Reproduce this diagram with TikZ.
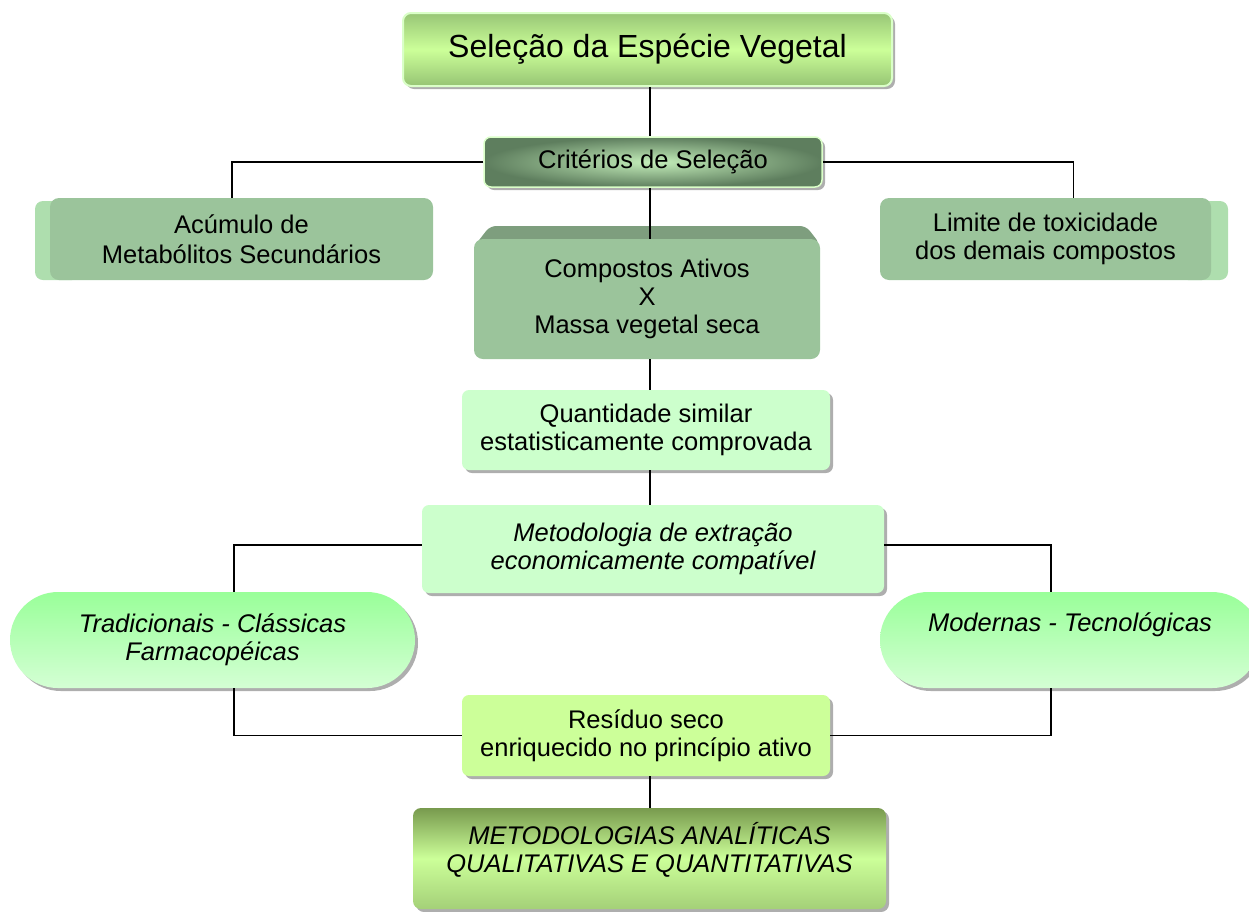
\documentclass[tikz,border=0pt]{standalone}
\usepackage{fontspec}
\setmainfont{Liberation Sans}
\usetikzlibrary{shapes.misc,shadows}

\definecolor{titTop}{HTML}{98C676}
\definecolor{titMid}{HTML}{CCFF99}
\definecolor{titBot}{HTML}{96C474}
\definecolor{glow}{HTML}{DAFFC8}
\definecolor{critIn}{HTML}{C4EEBA}
\definecolor{critOut}{HTML}{5E7E5E}
\definecolor{sage}{HTML}{9BC49B}
\definecolor{sageSide}{HTML}{AEDEAE}
\definecolor{sageTop}{HTML}{7E9E7E}
\definecolor{mint}{HTML}{CCFFCC}
\definecolor{pillTop}{HTML}{99FF99}
\definecolor{pillBot}{HTML}{D4FFD4}
\definecolor{lime}{HTML}{CCFF99}
\definecolor{olive}{HTML}{789A4E}
\definecolor{oliveLow}{HTML}{A4D078}

\begin{document}
\begin{tikzpicture}[x=1pt,y=-1pt,
  every node/.style={align=center, inner sep=0pt, text=black},
  txt/.style={font=\fontsize{25.5}{28}\selectfont},
  itxt/.style={font=\fontsize{25.5}{28}\selectfont\itshape},
  sz/.style 2 args={minimum width=#1, minimum height=#2},
  dropsh/.style={drop shadow={shadow xshift=3pt, shadow yshift=-3pt, opacity=.45, fill=black!70}},
  conn/.style={line width=1.6pt, black},
  titlebox/.style={rounded corners=8pt, top color=titTop, bottom color=titBot, middle color=titMid, draw=glow, line width=2pt, dropsh},
  critbox/.style={rounded corners=7pt, inner color=critIn, outer color=critOut, draw=glow, line width=1.5pt, dropsh},
  sagebox/.style={rounded corners=9pt, fill=sage},
  mintbox/.style={rounded corners=7pt, fill=mint, dropsh},
  pill/.style={rounded rectangle, top color=pillTop, bottom color=pillBot, dropsh},
  limebox/.style={rounded corners=7pt, fill=lime, dropsh},
  analbox/.style={rounded corners=8pt, top color=olive, bottom color=oliveLow, middle color=titMid, dropsh}
]
\useasboundingbox (0,0) rectangle (1249,911);
\clip (0,0) rectangle (1249,911);

% spine of the chart
\coordinate (sp) at (650,0);

% title
\node[titlebox, sz={489}{73}, font=\fontsize{32}{38}\selectfont] (title) at (647.5,49.5) {Seleção da Espécie Vegetal};

% selection criteria
\node[critbox, sz={338}{50}, txt] (crit) at (653,162) {Critérios de Seleção};

% left criterion, with its lighter side face
\fill[sageSide, rounded corners=8pt] (35,201) rectangle (80,280);
\node[sagebox, sz={383}{82}, font=\fontsize{25.5}{30.5}\selectfont] (acum) at (241.5,239) {Acúmulo de\\Metabólitos Secundários};

% right criterion, with its lighter side face
\fill[sageSide, rounded corners=8pt] (1180,201) rectangle (1228,280);
\node[sagebox, sz={331}{82}, txt] (lim) at (1045.5,239) {Limite de toxicidade\\dos demais compostos};

% central criterion, with its darker top face
\fill[sageTop, rounded corners=6pt] (476,244) -- (490,226) -- (806,226) -- (820,244) -- cycle;
\node[sagebox, sz={346}{120}, txt] (comp) at (647,299) {Compostos Ativos\\X\\Massa vegetal seca};

\node[mintbox, sz={368}{80}, txt] (quant) at (646,430) {Quantidade similar\\estatisticamente comprovada};

\node[mintbox, sz={462}{88}, itxt] (metod) at (653,549) {Metodologia de extração\\economicamente compatível};

\node[pill, sz={405}{96}, itxt] (trad) at (212.5,640) {Tradicionais - Clássicas\\Farmacopéicas};
\node[pill, sz={380}{96}, itxt] (mod) at (1070,640) {Modernas - Tecnológicas\\\strut};

\node[limebox, sz={368}{81}, txt] (res) at (646,735.5) {Resíduo seco\\enriquecido no princípio ativo};

\node[analbox, sz={473}{101}, itxt] (anal) at (649.5,858.5) {METODOLOGIAS ANALÍTICAS\\QUALITATIVAS E QUANTITATIVAS\\[-6pt]};

% connectors
\draw[conn] (title.south -| sp) -- (crit.north -| sp);
\draw[conn] (crit.west) -| (acum.north -| 232,0);
\draw[conn] (crit.east) -| ([xshift=28pt]lim.north);
\draw[conn] (crit.south -| sp) -- (comp.north -| sp);
\draw[conn] (comp.south -| sp) -- (quant.north -| sp);
\draw[conn] (quant.south -| sp) -- (metod.north -| sp);
\draw[conn] ([yshift=4pt]metod.west) -| ([xshift=21.5pt]trad.north);
\draw[conn] ([yshift=4pt]metod.east) -| ([xshift=-19pt]mod.north);
\draw[conn] ([xshift=21.5pt]trad.south) |- (res.west);
\draw[conn] ([xshift=-19pt]mod.south) |- (res.east);
\draw[conn] (res.south -| sp) -- (anal.north -| sp);
\end{tikzpicture}
\end{document}
